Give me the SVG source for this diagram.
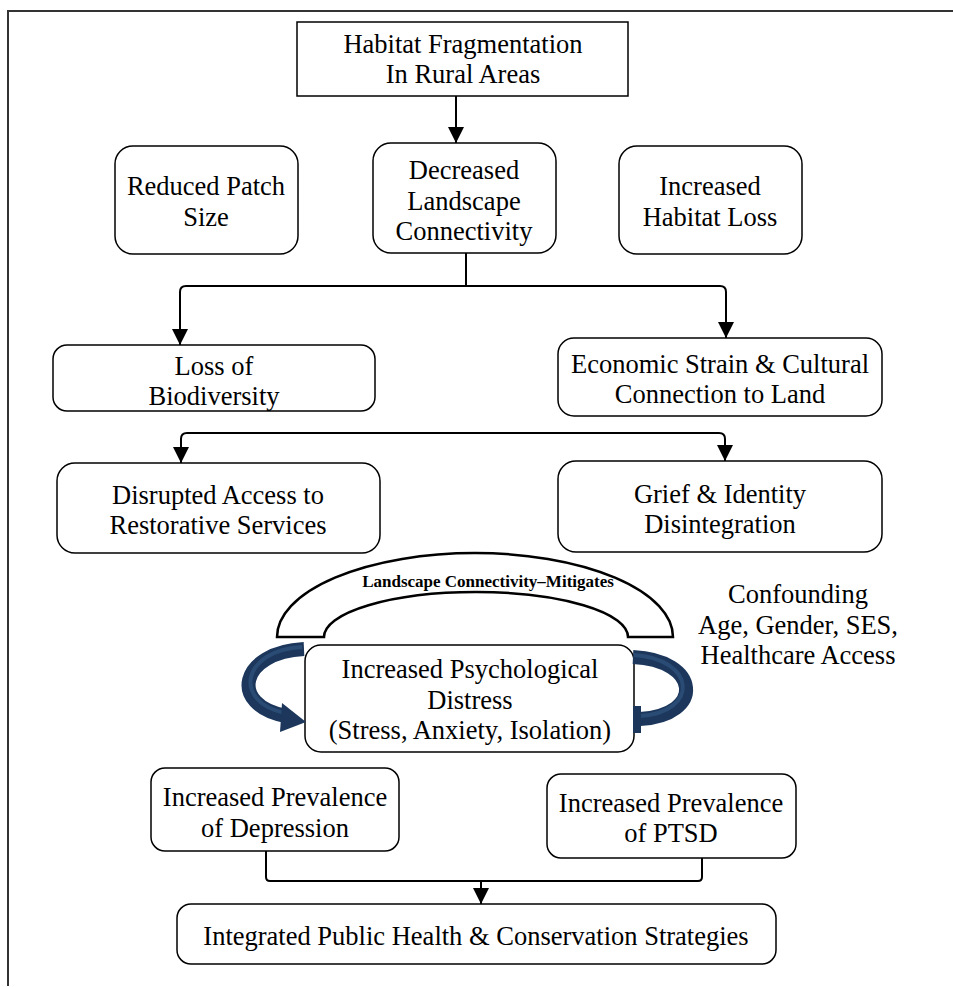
<svg xmlns="http://www.w3.org/2000/svg" width="953" height="987" viewBox="0 0 953 987">
<style>
.box{fill:#fff;stroke:#000;stroke-width:1.5}
.t{font-family:"Liberation Serif","Times New Roman",serif;font-size:26.5px;fill:#000;text-anchor:middle}
.b{font-family:"Liberation Serif","Times New Roman",serif;font-size:17px;font-weight:bold;fill:#000;text-anchor:middle}
.ln{fill:none;stroke:#000;stroke-width:2}
.blue{fill:none;stroke:#1c375b;stroke-width:14}
.hl{fill:none;stroke:#2a4b74;stroke-width:4}
</style>
<defs>
<marker id="ah" markerUnits="userSpaceOnUse" markerWidth="16" markerHeight="16" refX="16" refY="8" orient="auto">
<path d="M0,0 L16,8 L0,16 z" fill="#000"/>
</marker>
</defs>
<rect width="953" height="987" fill="#fff"/>
<path d="M8,986 V11 H953" fill="none" stroke="#333" stroke-width="2"/>

<g id="connectors">
<path class="ln" d="M456,96 V143" marker-end="url(#ah)"/>
<path class="ln" d="M466,253 V286"/>
<path class="ln" d="M466,286 H186 Q180,286 180,292 V345" marker-end="url(#ah)"/>
<path class="ln" d="M466,286 H720 Q726,286 726,292 V338" marker-end="url(#ah)"/>
<path class="ln" d="M453,433 H187 Q181,433 181,439 V463" marker-end="url(#ah)"/>
<path class="ln" d="M453,433 H719 Q725,433 725,439 V461" marker-end="url(#ah)"/>
<path class="ln" d="M266,851 V877 Q266,881 270,881 H698 Q702,881 702,877 V858"/>
<path class="ln" d="M481,881 V904" marker-end="url(#ah)"/>
</g>

<g id="n-top">
<rect class="box" x="297" y="22" width="331" height="74" stroke-width="2"/>
<text class="t" x="463" y="53">Habitat Fragmentation</text>
<text class="t" x="463" y="83">In Rural Areas</text>
</g>
<g id="n-patch">
<rect class="box" x="115" y="146" width="183" height="108" rx="18"/>
<text class="t" x="206" y="195">Reduced Patch</text>
<text class="t" x="206" y="226">Size</text>
</g>
<g id="n-connect">
<rect class="box" x="373" y="143" width="183" height="110" rx="18"/>
<text class="t" x="464" y="179">Decreased</text>
<text class="t" x="464" y="210">Landscape</text>
<text class="t" x="464" y="240">Connectivity</text>
</g>
<g id="n-loss">
<rect class="box" x="619" y="146" width="183" height="108" rx="18"/>
<text class="t" x="710" y="195">Increased</text>
<text class="t" x="710" y="226">Habitat Loss</text>
</g>
<g id="n-biodiv">
<rect class="box" x="53" y="345" width="322" height="66" rx="14"/>
<text class="t" x="214" y="375">Loss of</text>
<text class="t" x="214" y="405">Biodiversity</text>
</g>
<g id="n-econ">
<rect class="box" x="558" y="338" width="324" height="78" rx="16"/>
<text class="t" x="720" y="373">Economic Strain &amp; Cultural</text>
<text class="t" x="720" y="403">Connection to Land</text>
</g>
<g id="n-access">
<rect class="box" x="57" y="463" width="323" height="90" rx="18"/>
<text class="t" x="218" y="504">Disrupted Access to</text>
<text class="t" x="218" y="534">Restorative Services</text>
</g>
<g id="n-grief">
<rect class="box" x="558" y="461" width="324" height="91" rx="18"/>
<text class="t" x="720" y="503">Grief &amp; Identity</text>
<text class="t" x="720" y="533">Disintegration</text>
</g>
<g id="n-arch">
<path d="M277,637 A198,84 0 0 1 673,637 H628 A152,45 0 0 0 324,637 Z" fill="#fff" stroke="#000" stroke-width="2.5"/>
<text class="b" x="488" y="587">Landscape Connectivity–Mitigates</text>
</g>
<g id="n-confounding">
<text class="t" x="798" y="603">Confounding</text>
<text class="t" x="798" y="634">Age, Gender, SES,</text>
<text class="t" x="798" y="664">Healthcare Access</text>
</g>
<g id="n-distress">
<rect class="box" x="305" y="645" width="329" height="107" rx="16"/>
<text class="t" x="470" y="678">Increased Psychological</text>
<text class="t" x="470" y="709">Distress</text>
<text class="t" x="470" y="739">(Stress, Anxiety, Isolation)</text>
</g>
<g id="loops">
<path class="blue" d="M304,649 C240,652 228,705 286,716"/>
<path class="hl" d="M302,647 C242,650 232,702 285,713"/>
<polygon points="282,703 306,722 280,732" fill="#1c375b"/>
<path class="blue" d="M633,657 C700,660 705,715 640,719"/>
<path class="hl" d="M634,655 C696,659 700,712 640,716"/>
<rect x="633" y="706" width="8" height="27" fill="#1c375b"/>
</g>
<g id="n-depression">
<rect class="box" x="151" y="768" width="248" height="83" rx="14"/>
<text class="t" x="275" y="806">Increased Prevalence</text>
<text class="t" x="275" y="837">of Depression</text>
</g>
<g id="n-ptsd">
<rect class="box" x="547" y="774" width="249" height="84" rx="14"/>
<text class="t" x="671" y="812">Increased Prevalence</text>
<text class="t" x="671" y="842">of PTSD</text>
</g>
<g id="n-strategies">
<rect class="box" x="177" y="904" width="599" height="60" rx="14"/>
<text class="t" x="476" y="945">Integrated Public Health &amp; Conservation Strategies</text>
</g>
</svg>
